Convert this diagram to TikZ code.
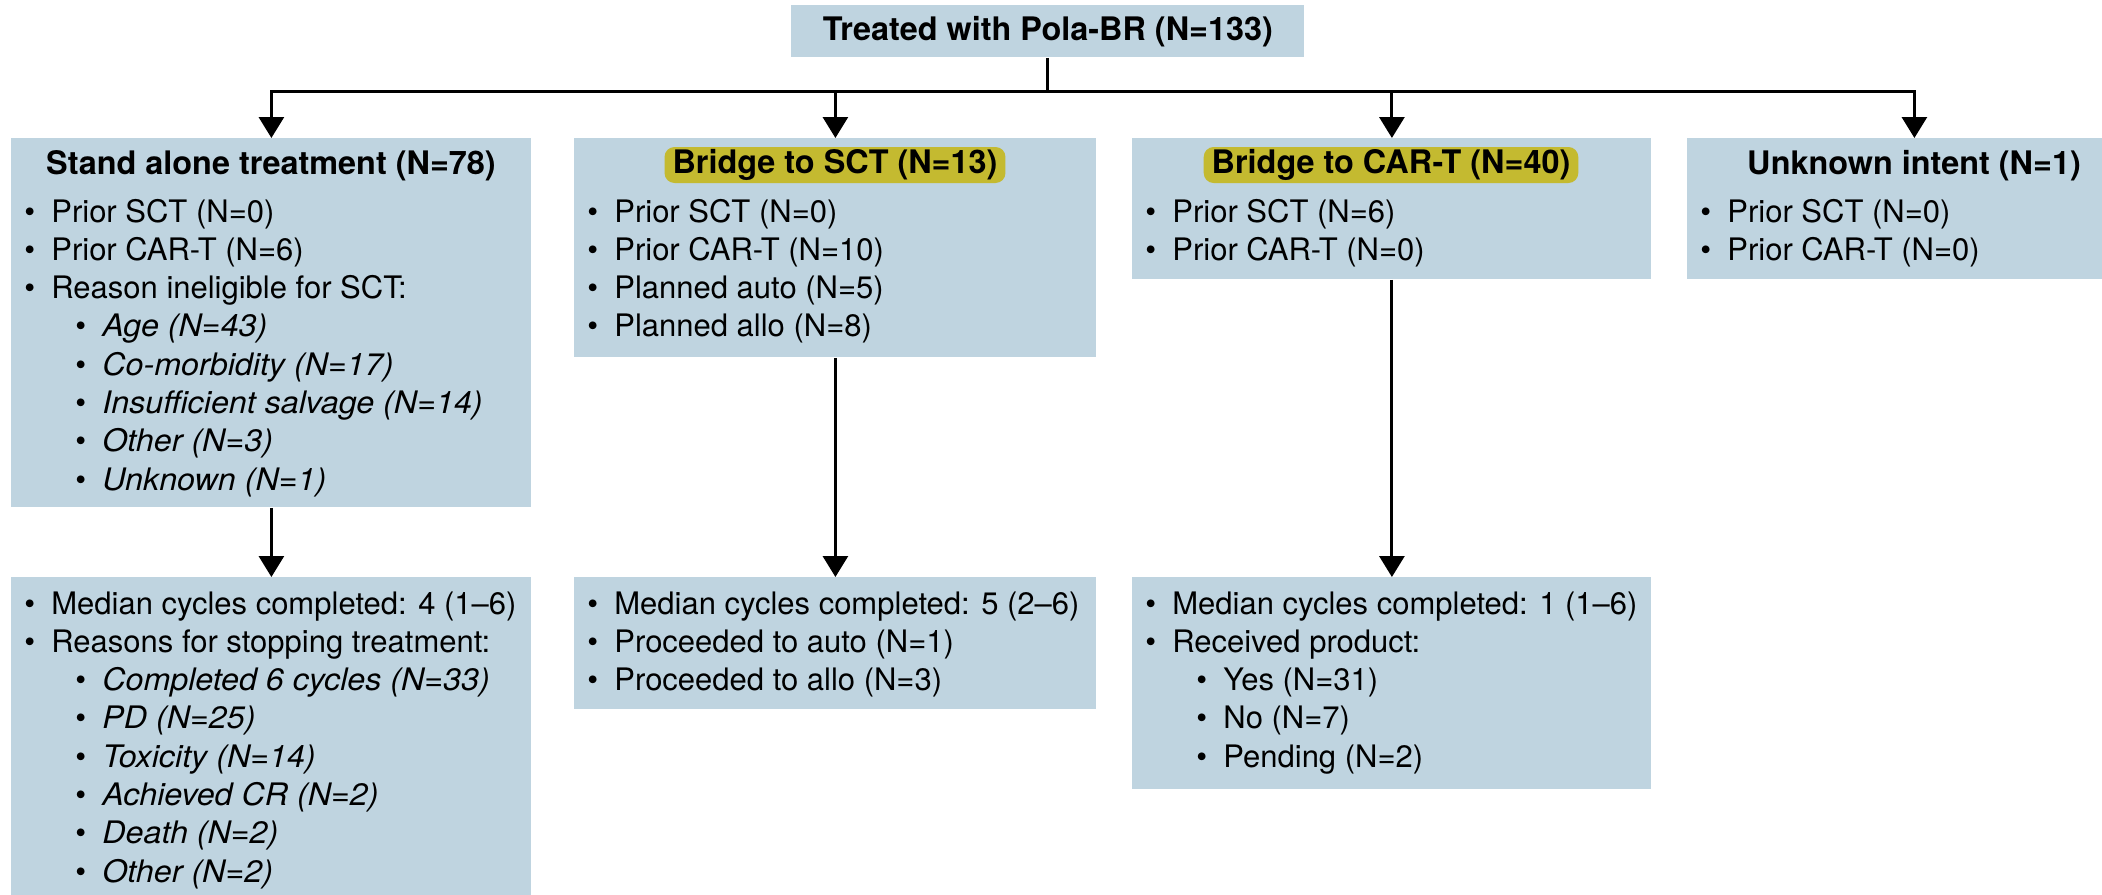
\documentclass[tikz,border=0pt]{standalone}
\usepackage{fontspec}
\setmainfont{TeX Gyre Heros}[ItalicFeatures={FakeStretch=1.04}]
\usetikzlibrary{arrows.meta,calc}
\definecolor{boxblue}{RGB}{191,212,224}
\definecolor{hilite}{RGB}{196,186,48}
% bullet markers for first- and second-level items
\newcommand\bul{\makebox[13.5pt][l]{\textbullet}}
\newcommand\subbul{\hspace*{25.5pt}\bul}
% a top-aligned column of list lines
\newcommand\itemlist[1]{\begin{tabular}[t]{@{}l@{}}#1\end{tabular}}
\begin{document}
\begin{tikzpicture}[x=0.5pt,y=-0.5pt,
  box/.style={fill=boxblue, inner sep=0pt, anchor=north west},
  ttl/.style={font=\fontsize{16.2}{19}\selectfont\bfseries, inner sep=0pt, anchor=base},
  hl/.style={ttl, fill=hilite, rounded corners=5pt, inner xsep=4pt, inner ysep=0pt, text height=13pt, text depth=5pt},
  lst/.style={font=\fontsize{15.5}{19.15}\selectfont, inner sep=0pt, anchor=base west},
  conn/.style={line width=1.5pt},
  arr/.style={conn, -{Triangle[width=12.5pt,length=10.5pt]}}]

\useasboundingbox (0,0) rectangle (2102,894);

% root
\node[box, minimum width=256.5pt, minimum height=26pt, font=\fontsize{16.2}{19}\selectfont\bfseries] (top) at (791,5) {Treated with Pola-BR (N=133)};

% intent boxes
\node[box, minimum width=260pt,   minimum height=184.5pt] (b1) at (11,138) {};
\node[box, minimum width=261pt,   minimum height=109.5pt] (b2) at (574,138) {};
\node[box, minimum width=259.5pt, minimum height=70.5pt]  (b3) at (1132,138) {};
\node[box, minimum width=227pt,   minimum height=70.5pt]  (b4) at (1687,138) {};

% outcome boxes
\node[box, minimum width=260pt,   minimum height=162pt] (c1) at (11,577) {};
\node[box, minimum width=261pt,   minimum height=66pt]  (c2) at (574,577) {};
\node[box, minimum width=259.5pt, minimum height=106pt] (c3) at (1132,577) {};

% headings
\node[ttl] (t1) at (271,174) {Stand alone treatment (N=78)};
\node[hl]  (t2) at (835,173) {Bridge to SCT (N=13)};
\node[hl]  (t3) at (1391,173) {Bridge to CAR-T (N=40)};
\node[ttl] (t4) at (1914,174) {Unknown intent (N=1)};

% intent details
\node[lst] (l1) at (24,222) {\itemlist{%
  \bul Prior SCT (N=0)\\
  \bul Prior CAR-T (N=6)\\
  \bul Reason ineligible for SCT:\\
  \subbul\textit{Age (N=43)}\\
  \subbul\textit{Co-morbidity (N=17)}\\
  \subbul\textit{Insufficient salvage (N=14)}\\
  \subbul\textit{Other (N=3)}\\
  \subbul\textit{Unknown (N=1)}}};
\node[lst] (l2) at (587,222) {\itemlist{%
  \bul Prior SCT (N=0)\\
  \bul Prior CAR-T (N=10)\\
  \bul Planned auto (N=5)\\
  \bul Planned allo (N=8)}};
\node[lst] (l3) at (1145,222) {\itemlist{%
  \bul Prior SCT (N=6)\\
  \bul Prior CAR-T (N=0)}};
\node[lst] (l4) at (1700,222) {\itemlist{%
  \bul Prior SCT (N=0)\\
  \bul Prior CAR-T (N=0)}};

% outcome details
\node[lst] (m1) at (24,614) {\itemlist{%
  \bul Median cycles completed: 4 (1--6)\\
  \bul Reasons for stopping treatment:\\
  \subbul\textit{Completed 6 cycles (N=33)}\\
  \subbul\textit{PD (N=25)}\\
  \subbul\textit{Toxicity (N=14)}\\
  \subbul\textit{Achieved CR (N=2)}\\
  \subbul\textit{Death (N=2)}\\
  \subbul\textit{Other (N=2)}}};
\node[lst] (m2) at (587,614) {\itemlist{%
  \bul Median cycles completed: 5 (2--6)\\
  \bul Proceeded to auto (N=1)\\
  \bul Proceeded to allo (N=3)}};
\node[lst] (m3) at (1145,614) {\itemlist{%
  \bul Median cycles completed: 1 (1--6)\\
  \bul Received product:\\
  \subbul Yes (N=31)\\
  \subbul No (N=7)\\
  \subbul Pending (N=2)}};

% connectors
\coordinate (hub) at ($(top.south)+(0,34)$);
\draw[conn] (top.south) -- (hub);
\draw[arr] (hub) -| (b1.north);
\draw[arr] (hub) -| (b2.north);
\draw[arr] (hub) -| (b3.north);
\draw[arr] (hub) -| (b4.north);
\draw[arr] (b1.south) -- (c1.north);
\draw[arr] (b2.south) -- (c2.north);
\draw[arr] (b3.south) -- (c3.north);
\end{tikzpicture}
\end{document}
